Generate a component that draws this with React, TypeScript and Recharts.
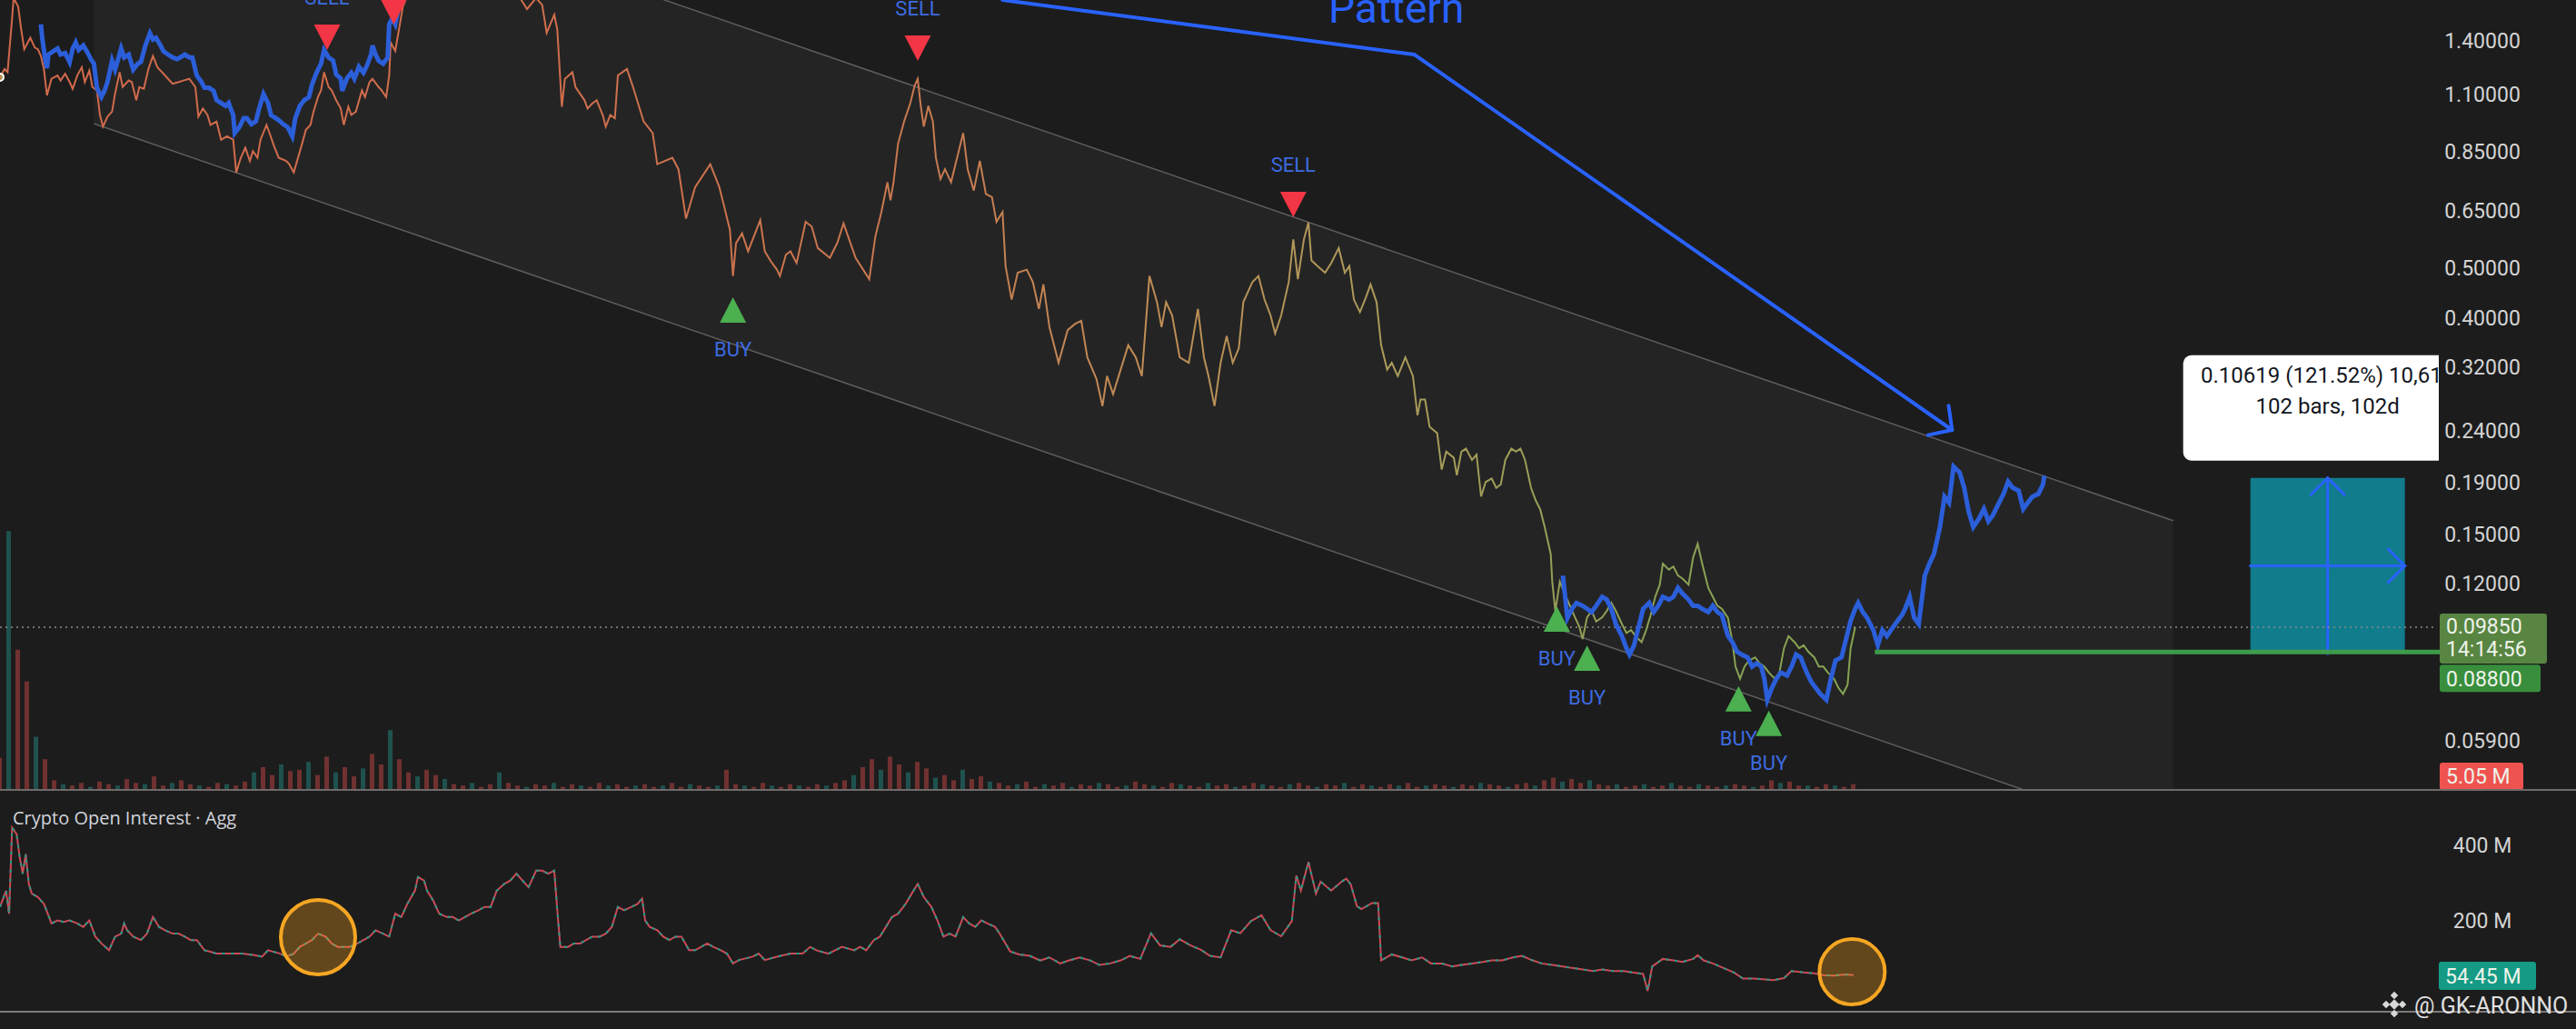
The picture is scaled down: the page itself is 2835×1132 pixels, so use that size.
import React from 'react'
import {
  Area,
  Bar,
  Cell,
  ComposedChart,
  Line,
  ReferenceArea,
  ReferenceDot,
  ReferenceLine,
  Scatter,
  XAxis,
  YAxis,
} from 'recharts'

const WIDTH = 2835
const HEIGHT = 1132
const MAIN_HEIGHT = 870
const OI_HEIGHT = 243
const AXIS_WIDTH = 155
const PLOT_RIGHT = WIDTH - AXIS_WIDTH
const DAYS = 1608

const BG = '#1c1c1c'
const AXIS_TEXT = '#d4d4d4'
const TAG_TEXT = '#eef3ea'
const BLUE = '#2b5ed9'
const ARROW_BLUE = '#2962ff'
const LABEL_BLUE = '#3c6be0'
const FONT = 'Roboto, "Noto Sans", sans-serif'

// price pane, log scale
const priceDomain = [0.04694, 1.6848]
const priceTicks = [1.4, 1.1, 0.85, 0.65, 0.5, 0.4, 0.32, 0.24, 0.19, 0.15, 0.12, 0.059]

// [day, price] — thin comparison line (orange fading to olive)
const comparePrice: [number, number][] = [
  [0, 1.188], [3, 1.233], [5, 1.215], [8, 1.552], [9, 1.7], [12, 1.635], [14, 1.474], [16, 1.348], [20, 1.42], [23, 1.358],
  [25, 1.348], [27, 1.308], [29, 1.233], [31, 1.094], [34, 1.179], [38, 1.197], [40, 1.17], [43, 1.206], [46, 1.162], [48, 1.127],
  [51, 1.197], [54, 1.242], [56, 1.162], [59, 1.224], [61, 1.136], [64, 1.119], [66, 1.001], [68, 0.95], [71, 0.994], [74, 1.016],
  [76, 1.103], [79, 1.215], [81, 1.136], [85, 1.17], [87, 1.162], [90, 1.07], [92, 1.136], [95, 1.127], [98, 1.233], [101, 1.308],
  [104, 1.242], [107, 1.215], [111, 1.179], [114, 1.153], [118, 1.162], [121, 1.17], [125, 1.179], [129, 1.136], [131, 0.994], [134, 1.031],
  [137, 1.001], [139, 0.957], [143, 0.972], [146, 0.895], [150, 0.909], [154, 0.895], [156, 0.772], [159, 0.825], [162, 0.863], [165, 0.813],
  [167, 0.85], [170, 0.825], [172, 0.895], [176, 0.957], [178, 0.922], [181, 0.869], [184, 0.825], [189, 0.813], [191, 0.801], [194, 0.772],
  [199, 0.869], [202, 0.936], [205, 0.957], [207, 1.016], [210, 1.086], [212, 1.119], [214, 1.215], [217, 1.136], [219, 1.119], [222, 1.07],
  [225, 1.031], [227, 0.957], [230, 1.039], [232, 1.001], [235, 1.016], [239, 1.119], [241, 1.086], [244, 1.162], [246, 1.179], [250, 1.136],
  [252, 1.119], [255, 1.086], [257, 1.197], [258, 1.389], [261, 1.338], [264, 1.507], [266, 1.635], [268, 1.69], [272, 1.85], [280, 2.1],
  [290, 2.3], [300, 2.2], [312, 2.4], [325, 2.1], [335, 1.95], [340, 1.8], [344, 1.69], [348, 1.617], [354, 1.7], [358, 1.648],
  [361, 1.452], [366, 1.576], [368, 1.474], [371, 1.039], [373, 1.179], [378, 1.215], [380, 1.136], [386, 1.07], [388, 1.031], [391, 1.054],
  [394, 1.07], [398, 1.001], [400, 0.95], [403, 1.001], [406, 0.986], [408, 1.197], [414, 1.233], [418, 1.136], [425, 0.972], [431, 0.922],
  [434, 0.801], [444, 0.825], [448, 0.783], [453, 0.626], [459, 0.722], [469, 0.801], [475, 0.722], [478, 0.665], [482, 0.595], [484, 0.483],
  [486, 0.56], [490, 0.586], [494, 0.54], [502, 0.622], [505, 0.54], [509, 0.516], [513, 0.497], [515, 0.483], [519, 0.532], [522, 0.54],
  [526, 0.512], [532, 0.617], [536, 0.604], [540, 0.548], [548, 0.524], [553, 0.562], [557, 0.613], [565, 0.524], [574, 0.476], [578, 0.577],
  [582, 0.645], [586, 0.738], [588, 0.68], [590, 0.738], [593, 0.879], [597, 0.972], [601, 1.054], [604, 1.144], [606, 1.179], [608, 1.043],
  [610, 0.95], [613, 1.043], [616, 0.972], [618, 0.825], [621, 0.749], [624, 0.783], [628, 0.738], [632, 0.825], [636, 0.922], [639, 0.783],
  [643, 0.711], [647, 0.813], [651, 0.7], [655, 0.69], [658, 0.617], [662, 0.645], [664, 0.505], [668, 0.434], [672, 0.49], [678, 0.497],
  [682, 0.47], [686, 0.416], [689, 0.465], [693, 0.383], [699, 0.326], [705, 0.378], [710, 0.389], [714, 0.394], [718, 0.334], [724, 0.303],
  [728, 0.268], [731, 0.307], [735, 0.283], [740, 0.316], [745, 0.353], [750, 0.334], [754, 0.307], [759, 0.483], [764, 0.429], [767, 0.383],
  [770, 0.429], [774, 0.404], [779, 0.334], [785, 0.326], [791, 0.416], [795, 0.334], [798, 0.307], [802, 0.268], [806, 0.326], [810, 0.368],
  [814, 0.326], [818, 0.348], [821, 0.429], [827, 0.47], [831, 0.483], [835, 0.434], [839, 0.404], [842, 0.372], [846, 0.404], [851, 0.47],
  [854, 0.57], [857, 0.476], [861, 0.57], [864, 0.615], [866, 0.518], [870, 0.505], [875, 0.49], [879, 0.512], [884, 0.548], [888, 0.49],
  [891, 0.505], [894, 0.434], [898, 0.41], [902, 0.439], [905, 0.465], [909, 0.429], [912, 0.353], [916, 0.316], [919, 0.326], [923, 0.307],
  [928, 0.334], [933, 0.307], [936, 0.257], [938, 0.276], [941, 0.276], [944, 0.244], [949, 0.237], [952, 0.201], [955, 0.218], [960, 0.212],
  [962, 0.196], [965, 0.218], [968, 0.221], [972, 0.21], [975, 0.215], [978, 0.178], [981, 0.19], [985, 0.193], [988, 0.185], [991, 0.188],
  [994, 0.21], [998, 0.221], [1001, 0.218], [1004, 0.221], [1007, 0.21], [1011, 0.185], [1014, 0.175], [1017, 0.168], [1020, 0.155], [1024, 0.137],
  [1025, 0.121], [1027, 0.106], [1030, 0.121], [1033, 0.115], [1037, 0.108], [1040, 0.103], [1043, 0.0985], [1045, 0.0933], [1048, 0.103], [1051, 0.106],
  [1054, 0.101], [1058, 0.103], [1061, 0.106], [1064, 0.11], [1067, 0.106], [1071, 0.0999], [1074, 0.0959], [1077, 0.0972], [1080, 0.0946], [1084, 0.092],
  [1087, 0.0972], [1090, 0.1041], [1093, 0.113], [1096, 0.1194], [1098, 0.1313], [1102, 0.1278], [1105, 0.1296], [1108, 0.1244], [1111, 0.1227], [1115, 0.1194],
  [1118, 0.135], [1121, 0.1436], [1124, 0.1313], [1128, 0.1177], [1131, 0.113], [1134, 0.1085], [1137, 0.107], [1141, 0.1027], [1144, 0.092], [1146, 0.0824],
  [1149, 0.078], [1152, 0.0824], [1155, 0.0847], [1159, 0.0859], [1162, 0.0836], [1165, 0.0824], [1168, 0.0802], [1172, 0.078], [1175, 0.0802], [1178, 0.0895],
  [1181, 0.0946], [1185, 0.092], [1188, 0.0895], [1191, 0.0907], [1194, 0.0882], [1198, 0.0859], [1201, 0.0824], [1204, 0.0824], [1207, 0.0802], [1211, 0.078],
  [1214, 0.0748], [1217, 0.0728], [1220, 0.0759], [1222, 0.0895], [1225, 0.0985],
]

// [day, price] — thick blue line, early stretch
const bluePriceEarly: [number, number][] = [
  [27, 1.509], [28, 1.409], [30, 1.28], [31, 1.237], [32, 1.316], [35, 1.335], [38, 1.353], [40, 1.316], [43, 1.325], [46, 1.272],
  [48, 1.353], [50, 1.391], [52, 1.344], [55, 1.371], [58, 1.325], [60, 1.289], [62, 1.263], [64, 1.132], [67, 1.086], [69, 1.117],
  [71, 1.163], [74, 1.28], [76, 1.229], [80, 1.353], [82, 1.299], [85, 1.316], [88, 1.229], [91, 1.263], [93, 1.272], [96, 1.371],
  [99, 1.449], [101, 1.409], [103, 1.42], [106, 1.371], [108, 1.335], [111, 1.316], [114, 1.299], [117, 1.289], [119, 1.299], [122, 1.316],
  [125, 1.299], [127, 1.299], [130, 1.196], [133, 1.163], [135, 1.132], [138, 1.132], [141, 1.117], [143, 1.071], [146, 1.057], [149, 1.043],
  [151, 1.057], [154, 1.0], [155, 0.922], [158, 0.947], [161, 0.987], [163, 0.987], [166, 0.96], [169, 0.973], [171, 1.028], [174, 1.101],
  [177, 1.057], [179, 1.0], [182, 0.987], [185, 0.973], [187, 0.96], [190, 0.947], [193, 0.909], [195, 0.987], [198, 1.043], [201, 1.071],
  [204, 1.086], [206, 1.148], [209, 1.212], [212, 1.263], [214, 1.344], [217, 1.299], [220, 1.28], [222, 1.203], [225, 1.18], [226, 1.117],
  [229, 1.18], [232, 1.212], [234, 1.18], [237, 1.246], [240, 1.212], [242, 1.246], [245, 1.316], [246, 1.371], [248, 1.316], [250, 1.28],
  [253, 1.263], [256, 1.299], [257, 1.509], [259, 1.551], [261, 1.509], [264, 1.662], [267, 1.69], [270, 1.8],
]

// [day, price] — thick blue line, late stretch
const bluePriceLate: [number, number][] = [
  [1032, 0.1244], [1035, 0.1027], [1038, 0.107], [1041, 0.1099], [1045, 0.1085], [1048, 0.107], [1051, 0.1055], [1054, 0.1085], [1058, 0.113], [1061, 0.1116],
  [1064, 0.107], [1067, 0.0999], [1071, 0.0946], [1074, 0.0895], [1076, 0.087], [1079, 0.0907], [1082, 0.0985], [1085, 0.107], [1089, 0.1099], [1092, 0.1055],
  [1095, 0.1085], [1098, 0.113], [1102, 0.1116], [1105, 0.113], [1108, 0.1177], [1111, 0.1146], [1115, 0.1116], [1118, 0.1085], [1121, 0.1085], [1124, 0.107],
  [1128, 0.1055], [1131, 0.1085], [1134, 0.1055], [1137, 0.1041], [1141, 0.0946], [1144, 0.092], [1147, 0.0882], [1150, 0.087], [1154, 0.0859], [1157, 0.0824],
  [1160, 0.0836], [1163, 0.0824], [1165, 0.078], [1167, 0.0709], [1170, 0.0748], [1173, 0.078], [1176, 0.0802], [1180, 0.0791], [1183, 0.0824], [1186, 0.087],
  [1189, 0.0859], [1193, 0.0802], [1196, 0.0769], [1199, 0.0748], [1202, 0.0728], [1206, 0.0709], [1209, 0.078], [1212, 0.0847], [1216, 0.0859], [1219, 0.0933],
  [1222, 0.1013], [1225, 0.107], [1227, 0.1099], [1230, 0.1055], [1233, 0.1027], [1237, 0.0972], [1240, 0.0907], [1243, 0.0972], [1246, 0.0946], [1250, 0.0985],
  [1253, 0.1013], [1256, 0.1041], [1258, 0.107], [1261, 0.113], [1264, 0.1027], [1267, 0.0999], [1271, 0.1244], [1274, 0.1313], [1277, 0.137], [1281, 0.155],
  [1284, 0.1777], [1287, 0.173], [1290, 0.2038], [1294, 0.1984], [1297, 0.1852], [1300, 0.1659], [1303, 0.155], [1307, 0.1614], [1310, 0.1682], [1313, 0.1591],
  [1316, 0.1636], [1320, 0.173], [1323, 0.1801], [1326, 0.1903], [1329, 0.1852], [1333, 0.1827], [1336, 0.1682], [1339, 0.173], [1342, 0.1777], [1346, 0.1801],
  [1349, 0.1878], [1350, 0.1956],
]

// volume in millions, one bar every volumeStep days starting at day 0
const volumeStep = 6
const volumes = [
  25, 197, 107, 83, 41, 24, 8,
  5, 4, 6, 3, 7, 5, 4, 9, 6, 5, 11, 4, 6, 8, 5, 4, 3, 6, 5, 4, 7,
  14, 18, 12, 20, 15, 16, 22, 12, 26, 14, 18, 11,
  17, 28, 20, 46, 24, 14, 11, 16, 12, 9,
  5, 4, 6, 3, 5, 14, 6, 4, 3, 5,
  4, 6, 3, 5, 4, 3, 6, 4, 5, 3,
  4, 5, 3, 4, 6, 3, 5, 4, 3, 4,
  16, 5, 4, 3, 6, 4, 3, 5, 4, 3,
  5, 4, 6, 8, 12, 18, 24, 16, 26, 20, 14, 22, 17,
  10, 12, 8, 16, 9, 11, 7,
  6, 4, 5, 7, 3, 5, 4, 6, 3, 5,
  4, 6, 5, 3, 4, 7, 5, 4, 3, 6,
  5, 4, 3, 6, 4, 5, 3, 4, 6, 5,
  4, 3, 5, 6, 4, 3, 5, 4, 6, 3,
  5, 4, 3, 5, 4, 6, 3, 4, 5, 4,
  3, 5, 4, 6, 5, 4, 3, 5, 6, 4,
  8, 10, 7, 9, 6, 8, 5,
  4, 5, 3, 4, 5, 3, 4, 6, 4, 3, 5, 4, 3, 4, 5, 4, 3, 4,
  8, 6, 7, 4,
  4, 3, 5, 4, 3, 5.05,
]

// [day, open interest in millions]
const openInterest: [number, number][] = [
  [0, 237], [4, 280], [6, 219], [8, 447], [11, 430], [13, 368], [15, 325], [17, 377], [19, 298], [21, 272],
  [25, 263], [29, 245], [34, 193], [38, 201], [42, 197], [46, 201], [51, 193], [55, 184], [59, 201], [63, 158],
  [67, 140], [72, 122], [76, 158], [80, 166], [82, 193], [84, 175], [88, 158], [93, 149], [97, 166], [101, 210],
  [105, 184], [109, 175], [114, 166], [118, 166], [122, 158], [126, 149], [130, 149], [135, 122], [139, 118], [143, 113],
  [152, 113], [160, 113], [168, 109], [173, 105], [177, 122], [185, 113], [189, 105], [194, 113], [198, 131], [202, 140],
  [206, 149], [210, 166], [215, 158], [219, 140], [223, 131], [231, 131], [236, 140], [240, 149], [244, 158], [248, 175],
  [253, 166], [257, 158], [261, 219], [265, 210], [269, 245], [274, 280], [276, 316], [280, 307], [282, 280], [286, 254],
  [290, 219], [295, 210], [299, 210], [303, 201], [307, 210], [311, 219], [316, 228], [320, 237], [324, 237], [328, 280],
  [333, 298], [337, 307], [341, 325], [345, 307], [349, 289], [354, 333], [358, 333], [362, 325], [366, 333], [368, 228],
  [370, 131], [375, 131], [379, 140], [383, 140], [387, 149], [391, 158], [396, 158], [400, 166], [404, 184], [408, 237],
  [412, 228], [417, 237], [421, 245], [424, 259], [426, 201], [429, 184], [434, 175], [438, 158], [442, 149], [446, 158],
  [450, 158], [455, 122], [459, 122], [463, 131], [467, 140], [471, 131], [476, 122], [480, 113], [484, 87], [488, 96],
  [497, 105], [501, 113], [505, 96], [513, 105], [522, 113], [530, 113], [535, 131], [539, 122], [547, 113], [556, 131],
  [564, 122], [568, 131], [572, 122], [577, 149], [581, 158], [585, 184], [589, 210], [593, 219], [598, 245], [602, 272],
  [606, 298], [610, 263], [615, 237], [619, 201], [623, 158], [627, 166], [631, 158], [636, 210], [640, 193], [644, 184],
  [648, 201], [652, 193], [657, 184], [660, 167], [667, 119], [673, 111], [680, 107], [687, 95], [693, 103], [700, 87],
  [706, 95], [713, 103], [720, 95], [726, 83], [733, 87], [740, 95], [746, 107], [753, 99], [760, 167], [766, 135],
  [773, 131], [779, 151], [786, 135], [793, 123], [799, 107], [806, 103], [813, 175], [819, 167], [826, 199], [833, 215],
  [839, 175], [846, 159], [853, 199], [856, 320], [859, 280], [864, 356], [869, 272], [872, 304], [879, 280], [886, 304],
  [889, 312], [892, 296], [896, 239], [899, 231], [906, 247], [910, 247], [912, 95], [919, 111], [926, 103], [932, 95],
  [939, 103], [945, 87], [952, 87], [959, 79], [965, 83], [972, 87], [979, 91], [985, 95], [992, 95], [999, 103],
  [1005, 107], [1012, 95], [1018, 87], [1025, 83], [1032, 79], [1038, 75], [1045, 71], [1052, 67], [1058, 71], [1065, 67],
  [1072, 67], [1078, 63], [1085, 59], [1088, 14], [1091, 79], [1098, 99], [1105, 95], [1111, 91], [1118, 99], [1121, 109],
  [1125, 95], [1131, 87], [1138, 75], [1145, 63], [1151, 47], [1158, 47], [1164, 45], [1171, 43], [1178, 48], [1183, 67],
  [1191, 63], [1198, 61], [1204, 56], [1211, 55], [1218, 58], [1224, 56],
]
const oiDomain = [-41, 544.6]
const oiTicks = [200, 400]

// buy / sell signals
const markerDays = [216, 260, 606, 854, 484, 1028, 1048, 1148, 1168]
const markerPrices = [1.344, 1.508, 1.279, 0.63, 0.4386, 0.1082, 0.0907, 0.0754, 0.0675]
const markerSides = ['SELL', 'SELL', 'SELL', 'SELL', 'BUY', 'BUY', 'BUY', 'BUY', 'BUY']

// descending channel (two anchor days, lower / upper edge)
const channelDays = [62, 1435]
const channelLow = [0.9626, 0.03733]
const channelHigh = [4.11, 0.1595]

// "Pattern" arrow
const patternDays = [662, 934, 1289]
const patternPrices = [1.6848, 1.316, 0.2405]
const patternText = 'Pattern'

// measure tool
const measureDays = [1486, 1588]
const measurePrices = [0.08738, 0.19357]
const measureText = ['0.10619 (121.52%) 10,619', '102 bars, 102d']

const lastPrice = 0.0985
const lastClock = '14:14:56'
const entryPrice = 0.088
const entryFromDay = 1238
const lastVolume = 5.05
const lastOI = 54.45

const circleDays = [210, 1223]
const circleOI = [156.6, 65]
const circleRadii = [41, 36]

// ---- tables built from the arrays above ----
const rows = new Map<number, any>()
const rowFor = (day: number) => {
  if (!rows.has(day)) rows.set(day, { day })
  return rows.get(day)
}
comparePrice.forEach(([d, p]) => (rowFor(d).compare = p))
bluePriceEarly.forEach(([d, p]) => (rowFor(d).blueEarly = p))
bluePriceLate.forEach(([d, p]) => (rowFor(d).blueLate = p))
channelDays.forEach((d, i) => (rowFor(d).channel = [channelLow[i], channelHigh[i]]))
const mainData = [...rows.values()].sort((a, b) => a.day - b.day)

const volumeData = volumes.map((v, i) => ({ day: i * volumeStep, vol: v, up: i % 3 === 1 }))
const oiData = openInterest.map(([d, v]) => ({ day: d, oi: v }))
const markers = markerDays.map((d, i) => ({ day: d, price: markerPrices[i], side: markerSides[i] }))

const arrowPath = (x1: number, y1: number, x2: number, y2: number, len: number, spread: number) => {
  const a = Math.atan2(y2 - y1, x2 - x1)
  const lx = x2 - len * Math.cos(a - spread)
  const ly = y2 - len * Math.sin(a - spread)
  const rx = x2 - len * Math.cos(a + spread)
  const ry = y2 - len * Math.sin(a + spread)
  return `M${lx},${ly}L${x2},${y2}L${rx},${ry}`
}

// right end of a horizontal reference line, whatever order recharts hands the points in
const rightEnd = (p: any) => Math.max(p.x1, p.x2)
const leftEnd = (p: any) => Math.min(p.x1, p.x2)

const Tag = ({ x, top, width, height, fill, lines }: any) => (
  <g>
    <rect x={x} y={top} width={width} height={height} rx={3} fill={fill} />
    {lines.map((t: string, i: number) => (
      <text key={i} x={x + 7} y={top + height / (lines.length * 2) + i * 25} dy="0.36em" fill={TAG_TEXT} fontSize={23} fontFamily={FONT}>
        {t}
      </text>
    ))}
  </g>
)

const PriceTick = (props: any) => (
  <text x={props.x} y={props.y} dy="0.36em" textAnchor="middle" fill={AXIS_TEXT} fontSize={23} fontFamily={FONT}>
    {Number(props.payload.value).toFixed(5)}
  </text>
)

const OiTick = (props: any) => (
  <text x={props.x} y={props.y} dy="0.36em" textAnchor="middle" fill={AXIS_TEXT} fontSize={23} fontFamily={FONT}>
    {`${props.payload.value} M`}
  </text>
)

const MarkerShape = (props: any) => {
  const { cx, cy, payload } = props
  if (!Number.isFinite(cx) || !Number.isFinite(cy)) return <g />
  const sell = payload.side === 'SELL'
  const base = sell ? cy - 28 : cy + 28
  return (
    <g>
      <polygon points={`${cx - 14.5},${base} ${cx + 14.5},${base} ${cx},${cy}`} fill={sell ? '#f23645' : '#4caf50'} />
      <text x={cx} y={sell ? cy - 50 : cy + 65} textAnchor="middle" fill={LABEL_BLUE} fontSize={22} fontFamily={FONT}>
        {payload.side}
      </text>
    </g>
  )
}

const lastPriceShape = (p: any) => (
  <g>
    <line x1={leftEnd(p)} y1={p.y1} x2={rightEnd(p)} y2={p.y2} stroke="#8a8a8a" strokeWidth={1.5} strokeDasharray="2 4" />
    <Tag x={rightEnd(p) + 5} top={p.y1 - 15} width={118} height={55} fill="#588542" lines={[lastPrice.toFixed(5), lastClock]} />
  </g>
)

const entryShape = (p: any) => (
  <g>
    <line x1={leftEnd(p)} y1={p.y1} x2={rightEnd(p) + 5} y2={p.y2} stroke="#3e9b4a" strokeWidth={5} />
    <Tag x={rightEnd(p) + 5} top={p.y1 + 14} width={111} height={30} fill="#388e3c" lines={[entryPrice.toFixed(5)]} />
  </g>
)

const volumeTagShape = (p: any) => {
  const cy = Math.min(p.y1, MAIN_HEIGHT - 16)
  return <Tag x={rightEnd(p) + 5} top={cy - 15} width={92} height={30} fill="#ef5350" lines={[`${lastVolume.toFixed(2)} M`]} />
}

const oiTagShape = (p: any) => (
  <Tag x={rightEnd(p) + 4} top={p.y1 - 15.5} width={107} height={31} fill="#149a85" lines={[`${lastOI.toFixed(2)} M`]} />
)

const patternStartShape = (p: any) => (
  <g>
    <line x1={p.x1} y1={p.y1} x2={p.x2} y2={p.y2} stroke={ARROW_BLUE} strokeWidth={4} strokeLinecap="round" />
    <text x={p.x2 - 20} y={p.y2 - 35} textAnchor="middle" fill={ARROW_BLUE} fontSize={46} fontFamily={FONT}>
      {patternText}
    </text>
  </g>
)

const patternEndShape = (p: any) => (
  <g fill="none" stroke={ARROW_BLUE} strokeWidth={4} strokeLinecap="round" strokeLinejoin="round">
    <line x1={p.x1} y1={p.y1} x2={p.x2} y2={p.y2} />
    <path d={arrowPath(p.x1, p.y1, p.x2, p.y2, 27, 0.82)} />
  </g>
)

const MeasureShape = (p: any) => {
  const { x, y, width, height } = p
  const cx = x + width / 2
  const cy = y + height / 2
  const boxW = 318
  const boxH = 116
  const bx = cx - boxW / 2
  const by = y - 19 - boxH
  return (
    <g>
      <rect x={x} y={y} width={width} height={height} fill="#107c8c" />
      <g fill="none" stroke={ARROW_BLUE} strokeWidth={3} strokeLinecap="round">
        <line x1={cx} y1={y + height} x2={cx} y2={y} />
        <path d={arrowPath(cx, y + height, cx, y, 26, Math.PI / 4)} />
        <line x1={x} y1={cy} x2={x + width} y2={cy} />
        <path d={arrowPath(x, cy, x + width, cy, 26, Math.PI / 4)} />
      </g>
      <svg x={0} y={0} width={PLOT_RIGHT + 4} height={MAIN_HEIGHT} overflow="hidden">
        <rect x={bx} y={by} width={boxW} height={boxH} rx={9} fill="#ffffff" />
        <text x={cx} y={by + 22} dy="0.36em" textAnchor="middle" fill="#131722" fontSize={24} fontFamily={FONT}>
          {measureText[0]}
        </text>
        <text x={cx} y={by + 56} dy="0.36em" textAnchor="middle" fill="#131722" fontSize={24} fontFamily={FONT}>
          {measureText[1]}
        </text>
      </svg>
    </g>
  )
}

export default function App() {
  return (
    <div style={{ position: 'relative', width: WIDTH, height: HEIGHT, background: BG, overflow: 'hidden' }}>
      <style>{'body{margin:0;background:#1c1c1c}'}</style>

      {/* volume, under the price pane */}
      <div style={{ position: 'absolute', left: 0, top: 0 }}>
        <ComposedChart width={WIDTH} height={MAIN_HEIGHT} data={volumeData} margin={{ top: 0, right: AXIS_WIDTH, bottom: 0, left: 0 }}>
          <XAxis dataKey="day" type="number" domain={[0, DAYS]} hide allowDataOverflow />
          <YAxis domain={[0, 600]} hide allowDataOverflow />
          <Bar dataKey="vol" barSize={5} isAnimationActive={false}>
            {volumeData.map((d, i) => (
              <Cell key={i} fill={d.up ? '#26a69a' : '#ef5350'} fillOpacity={0.4} />
            ))}
          </Bar>
          <ReferenceLine y={lastVolume} ifOverflow="visible" shape={volumeTagShape} />
        </ComposedChart>
      </div>

      {/* price pane */}
      <div style={{ position: 'absolute', left: 0, top: 0 }}>
        <ComposedChart width={WIDTH} height={MAIN_HEIGHT} data={mainData} margin={{ top: 0, right: 0, bottom: 0, left: 0 }}>
          <defs>
            <linearGradient id="compareFade" x1="0" y1="0" x2="1" y2="0">
              <stop offset="0" stopColor="#d2694b" />
              <stop offset="0.3" stopColor="#cf6e4c" />
              <stop offset="0.49" stopColor="#c87850" />
              <stop offset="0.62" stopColor="#be8c55" />
              <stop offset="0.75" stopColor="#aa9b5a" />
              <stop offset="0.885" stopColor="#8ca055" />
              <stop offset="1" stopColor="#85a452" />
            </linearGradient>
          </defs>
          <XAxis dataKey="day" type="number" domain={[0, DAYS]} hide allowDataOverflow />
          <YAxis
            orientation="right"
            width={AXIS_WIDTH}
            scale="log"
            domain={priceDomain}
            ticks={priceTicks}
            tick={PriceTick}
            tickSize={0}
            tickMargin={52}
            axisLine={false}
            tickLine={false}
            allowDataOverflow
          />
          <Area
            dataKey="channel"
            type="linear"
            connectNulls
            fill="#ffffff"
            fillOpacity={0.04}
            stroke="#5e5e5e"
            strokeWidth={1.5}
            dot={false}
            activeDot={false}
            isAnimationActive={false}
          />
          <ReferenceLine y={lastPrice} ifOverflow="visible" shape={lastPriceShape} />
          <Line dataKey="compare" type="linear" stroke="url(#compareFade)" strokeWidth={2} dot={false} connectNulls isAnimationActive={false} />
          <Line dataKey="blueEarly" type="linear" stroke={BLUE} strokeWidth={5} dot={false} connectNulls isAnimationActive={false} />
          <Line dataKey="blueLate" type="linear" stroke={BLUE} strokeWidth={5} dot={false} connectNulls isAnimationActive={false} />
          <ReferenceLine
            segment={[{ x: entryFromDay, y: entryPrice }, { x: DAYS, y: entryPrice }]}
            ifOverflow="visible"
            shape={entryShape}
          />
          <ReferenceArea
            x1={measureDays[0]}
            x2={measureDays[1]}
            y1={measurePrices[0]}
            y2={measurePrices[1]}
            ifOverflow="visible"
            shape={MeasureShape}
          />
          <ReferenceLine
            segment={[{ x: patternDays[0], y: patternPrices[0] }, { x: patternDays[1], y: patternPrices[1] }]}
            ifOverflow="visible"
            shape={patternStartShape}
          />
          <ReferenceLine
            segment={[{ x: patternDays[1], y: patternPrices[1] }, { x: patternDays[2], y: patternPrices[2] }]}
            ifOverflow="visible"
            shape={patternEndShape}
          />
          <Scatter data={markers} dataKey="price" shape={MarkerShape} isAnimationActive={false} />
        </ComposedChart>
      </div>

      {/* open interest pane */}
      <div style={{ position: 'absolute', left: 0, top: MAIN_HEIGHT }}>
        <ComposedChart width={WIDTH} height={OI_HEIGHT} data={oiData} margin={{ top: 0, right: 0, bottom: 0, left: 0 }}>
          <XAxis dataKey="day" type="number" domain={[0, DAYS]} hide allowDataOverflow />
          <YAxis
            orientation="right"
            width={AXIS_WIDTH}
            domain={oiDomain}
            ticks={oiTicks}
            tick={OiTick}
            tickSize={0}
            tickMargin={52}
            axisLine={false}
            tickLine={false}
            allowDataOverflow
          />
          {circleDays.map((d, i) => (
            <ReferenceDot
              key={i}
              x={d}
              y={circleOI[i]}
              r={circleRadii[i]}
              fill="#f5a21f"
              fillOpacity={0.33}
              stroke="#f5a623"
              strokeWidth={4}
              ifOverflow="visible"
            />
          ))}
          <Line dataKey="oi" type="linear" stroke="#c94c57" strokeWidth={2} dot={false} isAnimationActive={false} />
          <Line dataKey="oi" type="linear" stroke="#1f9e8a" strokeWidth={2} strokeDasharray="3 7" dot={false} isAnimationActive={false} />
          <ReferenceLine y={lastOI} ifOverflow="visible" shape={oiTagShape} />
        </ComposedChart>
      </div>

      {/* pane frames, title, watermark */}
      <svg width={WIDTH} height={HEIGHT} style={{ position: 'absolute', left: 0, top: 0, pointerEvents: 'none' }}>
        <rect x={0} y={868} width={WIDTH} height={2} fill="#6f6a6a" />
        <rect x={0} y={1112} width={WIDTH} height={2} fill="#7f7a7a" />
        <text x={14} y={907} fill="#d1d4dc" fontSize={20} fontFamily='"Open Sans", sans-serif'>
          Crypto Open Interest · Agg
        </text>
        <g fill="#d8d8d8" transform="translate(2635 1105)">
          <rect x={-4} y={-4} width={8} height={8} transform="rotate(45)" />
          <rect x={-3} y={-3} width={6} height={6} transform="translate(-9 0) rotate(45)" />
          <rect x={-3} y={-3} width={6} height={6} transform="translate(9 0) rotate(45)" />
          <rect x={-3} y={-3} width={6} height={6} transform="translate(0 -10) rotate(45)" />
          <rect x={-3} y={-3} width={6} height={6} transform="translate(0 10) rotate(45)" />
        </g>
        <text x={2657} y={1115} fill="#e0e0e0" fontSize={25} fontFamily={FONT}>
          @ GK-ARONNO
        </text>
      </svg>
    </div>
  )
}
